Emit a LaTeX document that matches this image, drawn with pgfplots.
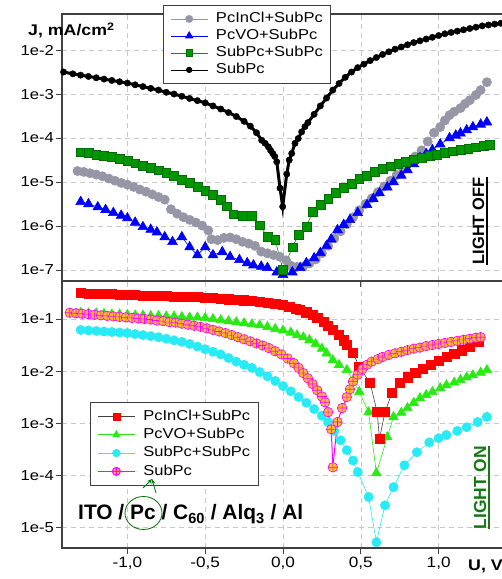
\documentclass[border=0pt]{standalone}
\usepackage{pgfplots}
\pgfplotsset{compat=1.18}
\usepackage{pgfplotstable}
\usepackage{fontspec}
\setmainfont{Liberation Sans}[FakeStretch=1.15]
\newfontfamily\plainfont{Liberation Sans}
\usetikzlibrary{arrows.meta}

\definecolor{grayS}{RGB}{150,150,166}
\definecolor{blueS}{RGB}{0,0,255}
\definecolor{greenS}{RGB}{0,150,0}
\definecolor{greenD}{RGB}{0,110,0}
\definecolor{redS}{RGB}{255,0,0}
\definecolor{limeS}{RGB}{40,235,20}
\definecolor{cyanS}{RGB}{40,235,245}
\definecolor{magS}{RGB}{255,0,255}
\definecolor{orangeS}{RGB}{255,190,40}
\definecolor{lightonG}{RGB}{20,120,20}
\definecolor{frameC}{RGB}{64,64,64}
\definecolor{gridC}{RGB}{200,200,200}

% ---------- LIGHT OFF (columns: U in V, lgJ = log10 of J in mA/cm^2) ----------
\pgfplotstableread{
U lgJ
-1.32 -4.75
-1.28 -4.77
-1.24 -4.80
-1.20 -4.83
-1.16 -4.87
-1.12 -4.92
-1.08 -4.97
-1.04 -5.02
-1.00 -5.06
-0.96 -5.11
-0.92 -5.17
-0.88 -5.22
-0.84 -5.28
-0.80 -5.34
-0.76 -5.40
-0.72 -5.62
-0.68 -5.72
-0.64 -5.80
-0.60 -5.86
-0.56 -5.92
-0.52 -5.99
-0.48 -6.10
-0.46 -6.30
-0.42 -6.32
-0.38 -6.27
-0.34 -6.26
-0.30 -6.30
-0.26 -6.36
-0.22 -6.40
-0.18 -6.45
-0.14 -6.58
-0.10 -6.62
-0.06 -6.66
-0.02 -6.70
0.02 -6.78
0.05 -6.90
0.09 -6.93
0.13 -6.92
0.17 -6.85
0.21 -6.76
0.25 -6.62
0.29 -6.45
0.33 -6.28
0.37 -6.12
0.41 -5.96
0.45 -5.80
0.49 -5.64
0.53 -5.50
0.57 -5.37
0.61 -5.23
0.65 -5.10
0.69 -4.97
0.73 -4.84
0.77 -4.70
0.81 -4.56
0.85 -4.42
0.89 -4.28
0.93 -4.08
0.97 -3.88
1.01 -3.75
1.04 -3.60
1.07 -3.48
1.10 -3.40
1.14 -3.32
1.17 -3.22
1.20 -3.14
1.24 -3.02
1.27 -2.91
1.31 -2.73
}\offGray

\pgfplotstableread{
U lgJ
-1.30 -5.45
-1.25 -5.50
-1.19 -5.57
-1.14 -5.63
-1.09 -5.70
-1.04 -5.76
-1.00 -5.82
-0.95 -5.92
-0.90 -6.02
-0.85 -6.08
-0.81 -6.14
-0.76 -6.25
-0.71 -6.36
-0.65 -6.25
-0.60 -6.48
-0.55 -6.66
-0.50 -6.48
-0.45 -6.66
-0.39 -6.59
-0.34 -6.70
-0.28 -6.77
-0.23 -6.84
-0.19 -6.89
-0.14 -6.92
-0.10 -6.95
-0.04 -7.05
0.00 -7.11
0.06 -7.05
0.11 -6.95
0.15 -6.84
0.20 -6.73
0.24 -6.61
0.28 -6.45
0.31 -6.30
0.35 -6.09
0.39 -5.97
0.43 -5.86
0.48 -5.70
0.54 -5.52
0.58 -5.38
0.62 -5.25
0.67 -5.12
0.71 -5.00
0.76 -4.85
0.80 -4.73
0.84 -4.59
0.88 -4.45
0.92 -4.36
0.96 -4.27
1.01 -4.14
1.07 -4.00
1.11 -3.94
1.14 -3.89
1.18 -3.82
1.22 -3.75
1.27 -3.69
1.31 -3.64
}\offBlue

\pgfplotstableread{
U lgJ
-1.30 -4.32
-1.25 -4.34
-1.20 -4.37
-1.15 -4.40
-1.10 -4.43
-1.05 -4.47
-1.00 -4.52
-0.95 -4.57
-0.90 -4.62
-0.85 -4.67
-0.80 -4.73
-0.75 -4.79
-0.70 -4.86
-0.65 -4.94
-0.60 -5.02
-0.55 -5.10
-0.50 -5.19
-0.45 -5.28
-0.40 -5.40
-0.36 -5.55
-0.32 -5.73
-0.26 -5.76
-0.20 -5.76
-0.15 -5.98
-0.10 -6.25
-0.05 -6.32
0.00 -7.00
0.06 -6.48
0.10 -6.20
0.15 -6.02
0.19 -5.68
0.24 -5.52
0.29 -5.38
0.34 -5.25
0.39 -5.13
0.44 -5.03
0.49 -4.93
0.54 -4.85
0.59 -4.77
0.64 -4.70
0.69 -4.64
0.74 -4.58
0.79 -4.53
0.84 -4.48
0.89 -4.44
0.94 -4.40
0.99 -4.37
1.04 -4.33
1.09 -4.30
1.14 -4.27
1.19 -4.24
1.24 -4.21
1.29 -4.18
1.33 -4.16
}\offGreen

\pgfplotstableread{
U lgJ
-1.41 -2.50
-1.35 -2.54
-1.30 -2.57
-1.25 -2.60
-1.20 -2.63
-1.15 -2.66
-1.10 -2.69
-1.05 -2.72
-1.00 -2.75
-0.95 -2.79
-0.90 -2.83
-0.85 -2.87
-0.80 -2.91
-0.75 -2.96
-0.70 -3.00
-0.65 -3.05
-0.60 -3.10
-0.55 -3.15
-0.50 -3.20
-0.45 -3.27
-0.40 -3.34
-0.35 -3.42
-0.30 -3.51
-0.25 -3.62
-0.21 -3.73
-0.17 -3.88
-0.137 -4.05
-0.115 -4.12
-0.094 -4.20
-0.080 -4.28
-0.066 -4.35
-0.053 -4.42
-0.040 -4.54
-0.019 -5.14
-0.002 -5.56
0.024 -4.82
0.040 -4.50
0.056 -4.35
0.077 -4.12
0.098 -4.01
0.120 -3.86
0.141 -3.74
0.16 -3.65
0.20 -3.46
0.24 -3.27
0.28 -3.09
0.32 -2.91
0.36 -2.76
0.40 -2.62
0.44 -2.50
0.48 -2.40
0.52 -2.32
0.56 -2.24
0.60 -2.17
0.64 -2.10
0.68 -2.04
0.72 -1.98
0.76 -1.93
0.80 -1.88
0.84 -1.83
0.88 -1.79
0.92 -1.75
0.96 -1.71
1.00 -1.67
1.04 -1.63
1.08 -1.60
1.12 -1.57
1.16 -1.54
1.20 -1.51
1.24 -1.48
1.28 -1.45
1.32 -1.43
1.36 -1.41
1.40 -1.39
}\offBlack

% ---------- LIGHT ON ----------
\pgfplotstableread{
U lgJ
-1.30 -0.50
-1.25 -0.51
-1.20 -0.51
-1.15 -0.52
-1.10 -0.52
-1.05 -0.53
-1.00 -0.54
-0.95 -0.54
-0.90 -0.55
-0.85 -0.55
-0.80 -0.56
-0.75 -0.56
-0.70 -0.57
-0.65 -0.57
-0.60 -0.58
-0.55 -0.58
-0.50 -0.59
-0.45 -0.60
-0.40 -0.61
-0.35 -0.62
-0.30 -0.63
-0.25 -0.64
-0.20 -0.65
-0.15 -0.67
-0.10 -0.69
-0.05 -0.71
0.00 -0.73
0.04 -0.76
0.08 -0.80
0.11 -0.83
0.15 -0.87
0.19 -0.92
0.22 -0.98
0.26 -1.06
0.29 -1.13
0.32 -1.21
0.36 -1.31
0.39 -1.41
0.41 -1.50
0.45 -1.65
0.49 -1.92
0.56 -2.23
0.605 -2.79
0.62 -3.30
0.655 -2.79
0.70 -2.42
0.75 -2.23
0.80 -2.12
0.85 -2.04
0.90 -1.96
0.95 -1.88
1.00 -1.81
1.05 -1.73
1.10 -1.67
1.15 -1.60
1.20 -1.54
1.26 -1.44
}\onRed

\pgfplotstableread{
U lgJ
-1.30 -0.88
-1.25 -0.89
-1.20 -0.89
-1.15 -0.90
-1.10 -0.91
-1.05 -0.91
-1.00 -0.92
-0.95 -0.93
-0.90 -0.93
-0.85 -0.94
-0.80 -0.94
-0.75 -0.95
-0.70 -0.95
-0.65 -0.96
-0.60 -0.97
-0.55 -0.97
-0.50 -0.98
-0.45 -1.00
-0.40 -1.02
-0.35 -1.04
-0.30 -1.06
-0.25 -1.08
-0.20 -1.10
-0.15 -1.12
-0.10 -1.15
-0.05 -1.19
0.00 -1.22
0.05 -1.26
0.09 -1.31
0.13 -1.35
0.17 -1.40
0.21 -1.48
0.25 -1.57
0.28 -1.66
0.32 -1.79
0.36 -1.88
0.41 -1.98
0.45 -2.18
0.49 -2.40
0.55 -2.79
0.60 -3.96
0.67 -3.27
0.71 -2.88
0.76 -2.80
0.80 -2.71
0.84 -2.61
0.88 -2.52
0.92 -2.46
0.96 -2.40
1.01 -2.33
1.05 -2.27
1.10 -2.22
1.14 -2.17
1.18 -2.12
1.22 -2.08
1.27 -2.03
1.31 -1.98
}\onLime

\pgfplotstableread{
U lgJ
-1.30 -1.21
-1.25 -1.22
-1.20 -1.23
-1.15 -1.24
-1.10 -1.25
-1.05 -1.26
-1.00 -1.27
-0.95 -1.29
-0.90 -1.31
-0.85 -1.33
-0.80 -1.35
-0.75 -1.38
-0.70 -1.41
-0.65 -1.44
-0.60 -1.48
-0.55 -1.53
-0.50 -1.58
-0.45 -1.63
-0.40 -1.68
-0.35 -1.75
-0.30 -1.82
-0.25 -1.88
-0.20 -1.94
-0.15 -2.02
-0.10 -2.10
-0.05 -2.19
0.00 -2.29
0.05 -2.39
0.10 -2.50
0.15 -2.61
0.20 -2.73
0.25 -2.86
0.29 -2.98
0.33 -3.15
0.37 -3.33
0.41 -3.52
0.45 -3.72
0.48 -3.94
0.55 -4.42
0.60 -5.29
0.655 -4.58
0.71 -4.23
0.78 -3.81
0.86 -3.56
0.94 -3.37
1.00 -3.29
1.05 -3.23
1.12 -3.15
1.18 -3.08
1.25 -2.98
1.31 -2.88
}\onCyan

\pgfplotstableread{
U lgJ
-1.37 -0.88
-1.33 -0.89
-1.29 -0.90
-1.25 -0.91
-1.21 -0.92
-1.17 -0.93
-1.13 -0.94
-1.09 -0.95
-1.05 -0.96
-1.01 -0.97
-0.97 -0.98
-0.93 -0.99
-0.89 -1.00
-0.85 -1.01
-0.81 -1.03
-0.77 -1.04
-0.73 -1.06
-0.69 -1.07
-0.65 -1.09
-0.61 -1.11
-0.57 -1.13
-0.53 -1.15
-0.49 -1.18
-0.45 -1.21
-0.41 -1.24
-0.37 -1.27
-0.33 -1.31
-0.29 -1.35
-0.25 -1.39
-0.21 -1.43
-0.17 -1.47
-0.13 -1.51
-0.09 -1.56
-0.05 -1.62
-0.01 -1.68
0.03 -1.76
0.07 -1.85
0.10 -1.94
0.13 -2.04
0.16 -2.14
0.19 -2.25
0.22 -2.37
0.25 -2.49
0.27 -2.60
0.29 -2.79
0.31 -3.12
0.32 -3.85
0.35 -2.98
0.38 -2.71
0.41 -2.50
0.43 -2.35
0.45 -2.20
0.48 -2.07
0.51 -1.96
0.54 -1.88
0.57 -1.82
0.61 -1.77
0.64 -1.73
0.68 -1.69
0.72 -1.66
0.76 -1.63
0.80 -1.60
0.84 -1.57
0.88 -1.55
0.92 -1.52
0.96 -1.50
1.00 -1.48
1.04 -1.46
1.08 -1.44
1.12 -1.42
1.16 -1.40
1.20 -1.38
1.24 -1.36
1.27 -1.35
}\onMag

\pgfplotsset{
  panel/.style={
    scale only axis, width=442bp, height=267bp,
    xmin=-1.42, xmax=1.42,
    axis line style={frameC, line width=1.2bp},
    tick style={frameC, line width=0.8bp},
    tick align=outside, major tick length=6bp,
    xtick={-1,-0.5,0,0.5,1},
    xtick pos=bottom, ytick pos=left,
    grid=major,
    major grid style={gridC, dash pattern=on 5bp off 4bp, line width=0.6bp},
    yticklabel style={font=\fontsize{14.5}{16}\selectfont, inner sep=2bp},
    xticklabel style={font=\fontsize{15}{17}\selectfont, inner sep=3bp},
    legend cell align=left,
    legend style={draw=frameC, line width=0.8bp, fill=white,
      inner xsep=7bp, inner ysep=5bp,
      font=\fontsize{14.4}{16}\selectfont},
    legend image code/.code={
      \draw[mark repeat=2, mark phase=2, #1]
        plot coordinates {(0bp,0bp) (18.5bp,0bp) (37bp,0bp)};
      \path (44bp,0bp);
    },
  },
}

\begin{document}
\begin{tikzpicture}
\useasboundingbox (0,0) rectangle (502bp,579bp);

% ---- upper panel: dark current ----
\begin{axis}[panel,
  at={(62bp,298bp)}, anchor=south west,
  ymin=-7.25, ymax=-1.18,
  ytick={-7,-6,-5,-4,-3,-2},
  yticklabels={1e-7,1e-6,1e-5,1e-4,1e-3,1e-2},
  xticklabels={},
  legend style={at={(0.2285,1.0337)}, anchor=north west,
    nodes={inner sep=1bp, text height=11bp, text depth=4bp}},
]
\addplot[grayS, line width=0.6bp, mark=*, mark size=4.6bp,
  mark options={fill=grayS, draw=grayS}, forget plot]
  table[x=U, y=lgJ] {\offGray};
\addplot[blueS, line width=0.6bp, mark=triangle*, mark size=5.6bp,
  mark options={fill=blueS, draw=blueS}, forget plot]
  table[x=U, y=lgJ] {\offBlue};
\addplot[greenS, line width=0.6bp, mark=square*, mark size=4.4bp,
  mark options={fill=greenS, draw=greenD, line width=0.4bp}, forget plot]
  table[x=U, y=lgJ] {\offGreen};
\addplot[black, line width=3bp, mark=*, mark size=3.2bp,
  mark options={fill=black, line width=0.4bp}, forget plot]
  table[x=U, y=lgJ] {\offBlack};

\addlegendimage{grayS, line width=0.6bp, mark=*, mark size=3.6bp, mark options={fill=grayS}}
\addlegendentry{PcInCl+SubPc}
\addlegendimage{blueS, line width=0.6bp, mark=triangle*, mark size=4.2bp, mark options={fill=blueS}}
\addlegendentry{PcVO+SubPc}
\addlegendimage{greenS, line width=0.6bp, mark=square*, mark size=3.3bp, mark options={fill=greenS, draw=greenD}}
\addlegendentry{SubPc+SubPc}
\addlegendimage{black, line width=0.6bp, mark=*, mark size=2.8bp, mark options={fill=black}}
\addlegendentry{SubPc}
\end{axis}

% ---- lower panel: illuminated ----
\begin{axis}[panel,
  at={(62bp,31bp)}, anchor=south west,
  ymin=-5.40, ymax=-0.27,
  ytick={-5,-4,-3,-2,-1},
  yticklabels={1e-5,1e-4,1e-3,1e-2,1e-1},
  xticklabels={{-1,0},{-0,5},{0,0},{0,5},{1,0}},
  legend style={at={(0.0633,0.547)}, anchor=north west,
    nodes={inner sep=1bp, text height=12bp, text depth=4.3bp}},
]
\addplot[cyanS, line width=0.6bp, mark=*, mark size=4.6bp,
  mark options={fill=cyanS, draw=cyanS}, forget plot]
  table[x=U, y=lgJ] {\onCyan};
\addplot[limeS, line width=0.6bp, mark=triangle*, mark size=5.4bp,
  mark options={fill=limeS, draw=limeS}, forget plot]
  table[x=U, y=lgJ] {\onLime};
\addplot[frameC, line width=0.6bp, mark=square*, mark size=4.6bp,
  mark options={fill=redS, draw=redS}, forget plot]
  table[x=U, y=lgJ] {\onRed};
\addplot[magS, line width=1bp, mark=oplus*, mark size=4.8bp,
  mark options={fill=orangeS, draw=magS, line width=0.6bp}, forget plot]
  table[x=U, y=lgJ] {\onMag};

\addlegendimage{frameC, line width=0.6bp, mark=square*, mark size=3.5bp, mark options={fill=redS, draw=redS}}
\addlegendentry{PcInCl+SubPc}
\addlegendimage{limeS, line width=0.6bp, mark=triangle*, mark size=4.2bp, mark options={fill=limeS}}
\addlegendentry{PcVO+SubPc}
\addlegendimage{cyanS, line width=0.6bp, mark=*, mark size=3.8bp, mark options={fill=cyanS}}
\addlegendentry{SubPc+SubPc}
\addlegendimage{magS, line width=1bp, mark=oplus*, mark size=4bp, mark options={fill=orangeS, draw=magS}}
\addlegendentry{SubPc}
\end{axis}

% ---- axis titles ----
\node[anchor=base west, inner sep=0, font=\bfseries\fontsize{15.5}{18}\selectfont]
  at (28bp,543bp) {J, mA/cm\textsuperscript{2}};
\node[anchor=base west, inner sep=0, font=\bfseries\fontsize{15.5}{18}\selectfont]
  at (468bp,9bp) {U, V};

% ---- panel tags ----
\node[rotate=90, inner sep=0, font=\plainfont\bfseries\fontsize{16.5}{18}\selectfont]
  (loff) at (478.5bp,358bp) {LIGHT OFF};
\draw[line width=1.5bp] ([xshift=2.5bp]loff.south west) -- ([xshift=2.5bp]loff.south east);
\node[rotate=90, inner sep=0, text=lightonG, font=\plainfont\bfseries\fontsize{17.5}{19}\selectfont]
  (lon) at (480bp,91.5bp) {LIGHT ON};
\draw[lightonG, line width=1.5bp] ([xshift=2.5bp]lon.south west) -- ([xshift=2.5bp]lon.south east);

% ---- device structure ----
\node[anchor=base west, inner sep=0, font=\plainfont\bfseries\fontsize{21}{24}\selectfont]
  at (78bp,59bp) {ITO / Pc / C\textsubscript{60} / Alq\textsubscript{3} / Al};
\draw[greenD, line width=0.8bp] (143.5bp,66bp) ellipse [x radius=18.5bp, y radius=16.5bp];
\draw[greenS!80!black, line width=0.8bp, -{Stealth[length=5bp,width=4bp]}] (143bp,91bp) -- (152bp,100bp);
\draw[greenS!80!black, line width=0.8bp, -{Stealth[length=5bp,width=4bp]}] (156bp,86bp) -- (152bp,100bp);
\end{tikzpicture}
\end{document}
